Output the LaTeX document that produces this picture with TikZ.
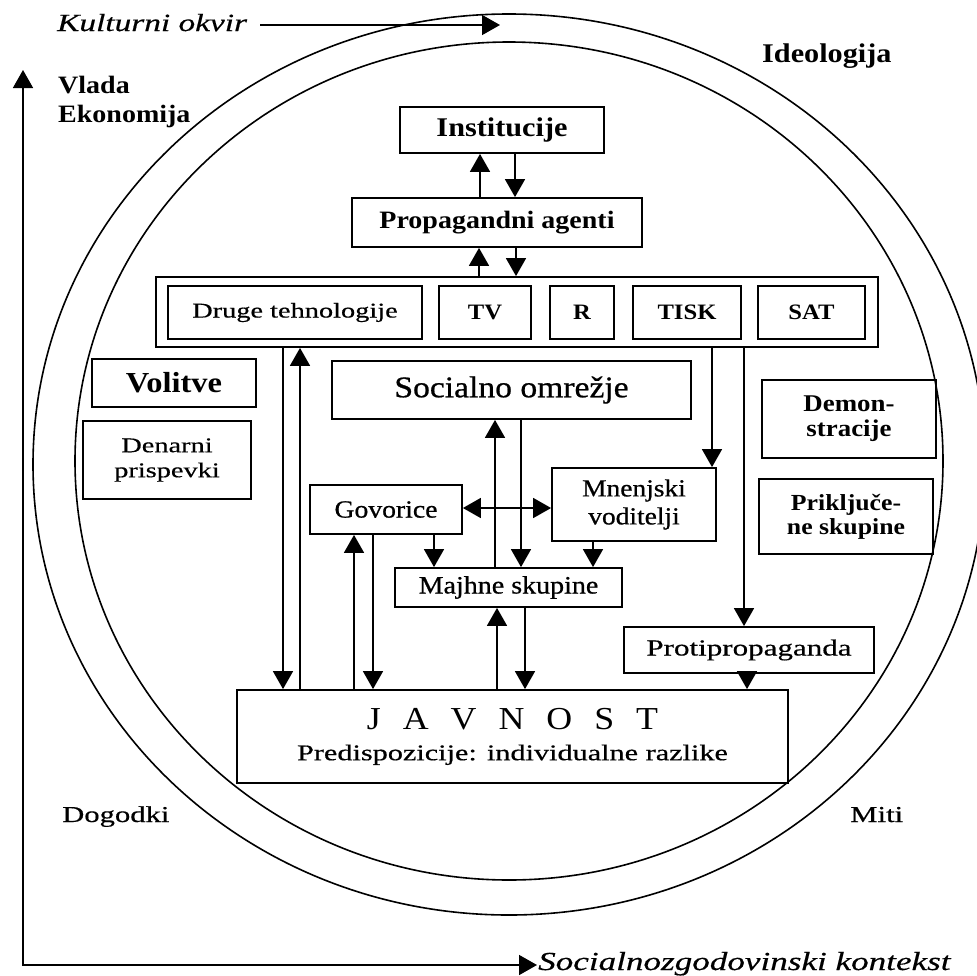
\documentclass[tikz,border=0pt]{standalone}
\usepackage{fontspec}
\setmainfont[FakeStretch=1.12]{Liberation Serif}
\newfontfamily\widefont[FakeStretch=1.35,FakeBold=0.5]{Liberation Serif}
\newfontfamily\medfont[FakeStretch=1.12,FakeBold=0.7]{Liberation Serif}
\usetikzlibrary{arrows.meta}
\newcommand{\fs}[2]{\fontsize{#1}{#2}\selectfont}
\tikzset{
  box/.style={draw, line width=1.8pt, rectangle, inner sep=0pt, align=center},
  arr/.style={line width=1.6pt, -{Triangle[width=20pt,length=18pt]}},
  darr/.style={line width=1.6pt, {Triangle[width=20pt,length=18pt]}-{Triangle[width=20pt,length=18pt]}},
  ring/.style={line width=1.6pt},
  lbl/.style={anchor=base west, inner sep=0pt}
}
\begin{document}
\begin{tikzpicture}[x=1pt,y=-1pt]
\useasboundingbox (0,0) rectangle (977,975);
\fill[white] (0,0) rectangle (977,975);
\clip (0,0) rectangle (977,975);

% rings
\draw[ring] (509,464.5) ellipse [x radius=476pt, y radius=450.5pt];
\draw[ring] (509,461) ellipse [x radius=434pt, y radius=419pt];

% axes
\coordinate (orig) at (23,965);
\coordinate (ytip) at (23,70);
\coordinate (xtip) at (537,965);
\draw[darr] (ytip) -- (orig) -- (xtip);
\node[lbl, font=\widefont\itshape\fs{26}{30}] (socx) at (538,970) {Socialnozgodovinski kontekst};

% Kulturni okvir
\node[anchor=base west, inner ysep=0pt, inner xsep=13pt, font=\widefont\itshape\fs{24.7}{28}] (kult) at (44,31) {Kulturni okvir};
\coordinate (khead) at (500,25);
\draw[arr] (kult.east |- khead) -- (khead);

% outer labels
\node[lbl, font=\bfseries\fs{25}{28}] (vlada) at (58,93) {Vlada};
\node[lbl, font=\bfseries\fs{25}{28}] (ekon) at (58,122) {Ekonomija};
\node[lbl, font=\bfseries\fs{27}{30}] (ideo) at (762,62) {Ideologija};
\node[lbl, font=\widefont\fs{22.7}{26}] (dogodki) at (62,822) {Dogodki};
\node[lbl, font=\widefont\fs{22.8}{26}] (miti) at (850,822) {Miti};

% boxes
\node[box, minimum width=204pt, minimum height=46pt, font=\bfseries\fs{27}{30}] (inst) at (502,130) {Institucije};
\node[box, minimum width=290pt, minimum height=49pt, font=\bfseries\fs{25}{28}] (prop) at (497,222.5) {Propagandni agenti};
\node[box, minimum width=722pt, minimum height=70pt] (media) at (517,312) {};
\node[box, minimum width=254pt, minimum height=53pt, font=\widefont\fs{21}{24}] (druge) at (295,312.5) {Druge tehnologije};
\node[box, minimum width=92pt, minimum height=53pt, font=\bfseries\fs{22}{25}] (tv) at (485,312.5) {TV};
\node[box, minimum width=64pt, minimum height=53pt, font=\bfseries\fs{22}{25}] (r) at (582,312.5) {R};
\node[box, minimum width=108pt, minimum height=53pt, font=\bfseries\fs{22}{25}] (tisk) at (687,312.5) {TISK};
\node[box, minimum width=107pt, minimum height=53pt, font=\bfseries\fs{22}{25}] (sat) at (811.5,312.5) {SAT};

\node[box, minimum width=164pt, minimum height=48pt, font=\bfseries\fs{29}{32}] (volitve) at (174,383) {Volitve};
\node[box, minimum width=168pt, minimum height=78pt, font=\widefont\fs{21}{25}] (denarni) at (167,460) {Denarni\\prispevki};
\node[box, minimum width=359pt, minimum height=58pt, font=\medfont\fs{30}{33}] (socialno) at (511.5,390) {Socialno omrežje};
\node[box, minimum width=152pt, minimum height=49pt, font=\medfont\fs{24.7}{28}] (govorice) at (386,509.5) {Govorice};
\node[box, minimum width=164pt, minimum height=73pt, font=\medfont\fs{24.5}{28}] (mnenjski) at (634,504.5) {Mnenjski\\voditelji};
\node[box, minimum width=227pt, minimum height=39pt, font=\medfont\fs{25}{28}] (majhne) at (508.5,587.5) {Majhne skupine};
\node[box, minimum width=174pt, minimum height=78pt, font=\bfseries\fs{24}{25}] (demon) at (849,419) {Demon-\\stracije};
\node[box, minimum width=174pt, minimum height=75pt, font=\bfseries\fs{23}{24}] (prikl) at (846,516.5) {Priključe-\\ne skupine};
\node[box, minimum width=250pt, minimum height=46pt, font=\widefont\fs{23}{26}] (protip) at (749,650) {Protipropaganda};
\node[box, minimum width=551pt, minimum height=93pt, font=\widefont\fs{22.4}{31}] (javnost) at (512.5,736.5)
  {{\normalfont\fs{32}{31}J\kern22pt A\kern22pt V\kern22pt N\kern22pt O\kern22pt S\kern22pt T}\\Predispozicije: individualne razlike};

% columns
\coordinate (k480) at (480,0);
\coordinate (k515) at (515,0);
\coordinate (k479) at (479,0);
\coordinate (k516) at (516,0);
\coordinate (k283) at (283,0);
\coordinate (k300) at (300,0);
\coordinate (k354) at (354,0);
\coordinate (k373) at (373,0);
\coordinate (k434) at (434,0);
\coordinate (k495) at (495,0);
\coordinate (k521) at (521,0);
\coordinate (k712) at (712,0);
\coordinate (k593) at (593,0);
\coordinate (k744) at (744,0);
\coordinate (k747) at (747,0);
\coordinate (k497) at (497,0);
\coordinate (k525) at (525,0);
\coordinate (h508) at (0,508);

% connectors
\draw[arr] (prop.north -| k480) -- (inst.south -| k480);
\draw[arr] (inst.south -| k515) -- (prop.north -| k515);
\draw[arr] (media.north -| k479) -- (prop.south -| k479);
\draw[arr] (prop.south -| k516) -- (media.north -| k516);
\draw[arr] (media.south -| k283) -- (javnost.north -| k283);
\draw[arr] (javnost.north -| k300) -- (media.south -| k300);
\draw[arr] (javnost.north -| k354) -- (govorice.south -| k354);
\draw[arr] (govorice.south -| k373) -- (javnost.north -| k373);
\draw[arr] (govorice.south -| k434) -- (majhne.north -| k434);
\draw[darr] (govorice.east |- h508) -- (mnenjski.west |- h508);
\draw[arr] (majhne.north -| k495) -- (socialno.south -| k495);
\draw[arr] (socialno.south -| k521) -- (majhne.north -| k521);
\draw[arr] (media.south -| k712) -- (mnenjski.north -| k712);
\draw[arr] (mnenjski.south -| k593) -- (majhne.north -| k593);
\draw[arr] (media.south -| k744) -- (protip.north -| k744);
\draw[arr] (protip.south -| k747) -- (javnost.north -| k747);
\draw[arr] (javnost.north -| k497) -- (majhne.south -| k497);
\draw[arr] (majhne.south -| k525) -- (javnost.north -| k525);
\end{tikzpicture}
\end{document}
